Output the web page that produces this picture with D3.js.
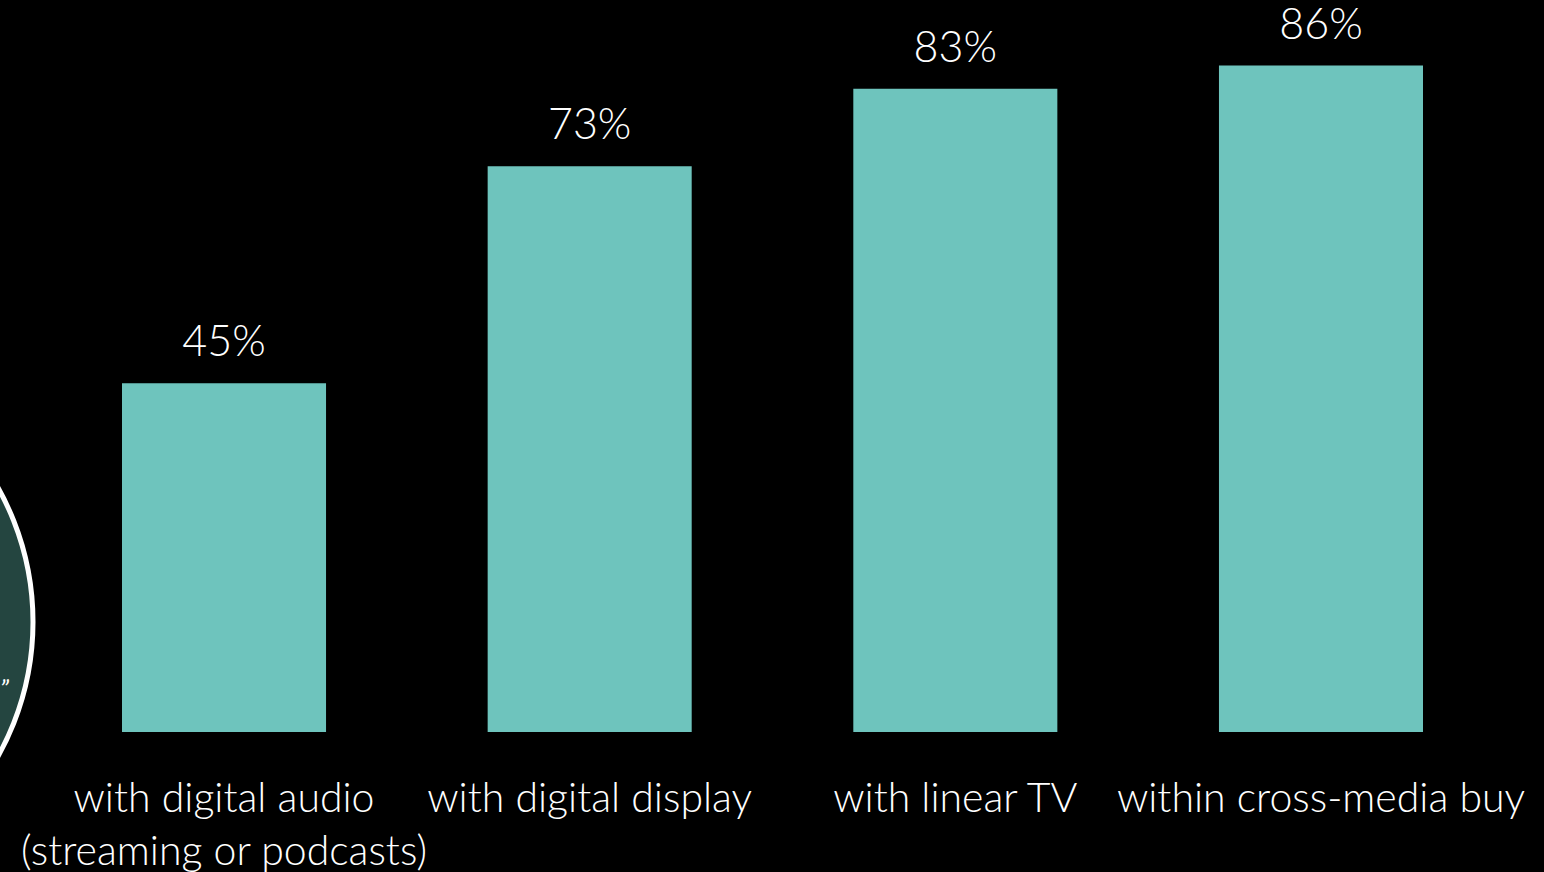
<!DOCTYPE html>
<html>
<head>
<meta charset="utf-8">
<script src="https://cdn.jsdelivr.net/npm/d3@7"></script>
<style>
  html, body { margin: 0; padding: 0; background: #000; overflow: hidden; }
  svg { display: block; }
</style>
</head>
<body>
<svg id="chart" width="1544" height="872"></svg>
<script>
// Share of respondents, by channel
const categories = [
  ["with digital audio", "(streaming or podcasts)"],
  ["with digital display"],
  ["with linear TV"],
  ["within cross-media buy"]
];
const values = [45, 73, 83, 86];
const valueLabels = ["45%", "73%", "83%", "86%"];

const W = 1544, H = 872;
const svg = d3.select("#chart");
const font = "Lato, 'Open Sans', sans-serif";

svg.append("rect").attr("width", W).attr("height", H).attr("fill", "#000");

// Callout circle partly off the left edge
svg.append("circle")
  .attr("cx", -242).attr("cy", 622).attr("r", 275)
  .attr("fill", "#244540")
  .attr("stroke", "#ffffff").attr("stroke-width", 5);
svg.append("text")
  .attr("x", 0).attr("y", 698)
  .attr("fill", "#ffffff")
  .attr("font-family", font).attr("font-style", "italic")
  .attr("font-size", 26)
  .text("\u201D");

const keys = categories.map(c => c.join(" "));
const x = d3.scaleBand()
  .domain(keys)
  .range([122, 1423])
  .paddingInner(0.442)
  .paddingOuter(0);

const y = d3.scaleLinear().domain([0, 100]).range([732, -43]);

const g = svg.append("g");

g.selectAll("rect.bar")
  .data(values)
  .join("rect")
  .attr("class", "bar")
  .attr("x", (d, i) => x(keys[i]))
  .attr("width", x.bandwidth())
  .attr("y", d => y(d))
  .attr("height", d => y(0) - y(d))
  .attr("fill", "#6EC4BD");

g.selectAll("text.val")
  .data(values)
  .join("text")
  .attr("class", "val")
  .attr("x", (d, i) => x(keys[i]) + x.bandwidth() / 2)
  .attr("y", d => y(d) - 27)
  .attr("text-anchor", "middle")
  .attr("fill", "#ffffff")
  .attr("font-family", font)
  .attr("font-weight", 300)
  .attr("font-size", 43)
  .text((d, i) => valueLabels[i]);

const cat = g.selectAll("text.cat")
  .data(categories)
  .join("text")
  .attr("class", "cat")
  .attr("x", (d, i) => x(keys[i]) + x.bandwidth() / 2)
  .attr("y", 812)
  .attr("text-anchor", "middle")
  .attr("fill", "#ffffff")
  .attr("font-family", font)
  .attr("font-weight", 300)
  .attr("font-size", 41);

cat.selectAll("tspan")
  .data(d => d)
  .join("tspan")
  .attr("x", function () { return d3.select(this.parentNode).attr("x"); })
  .attr("dy", (d, i) => i === 0 ? 0 : 53)
  .text(d => d);
</script>
</body>
</html>
